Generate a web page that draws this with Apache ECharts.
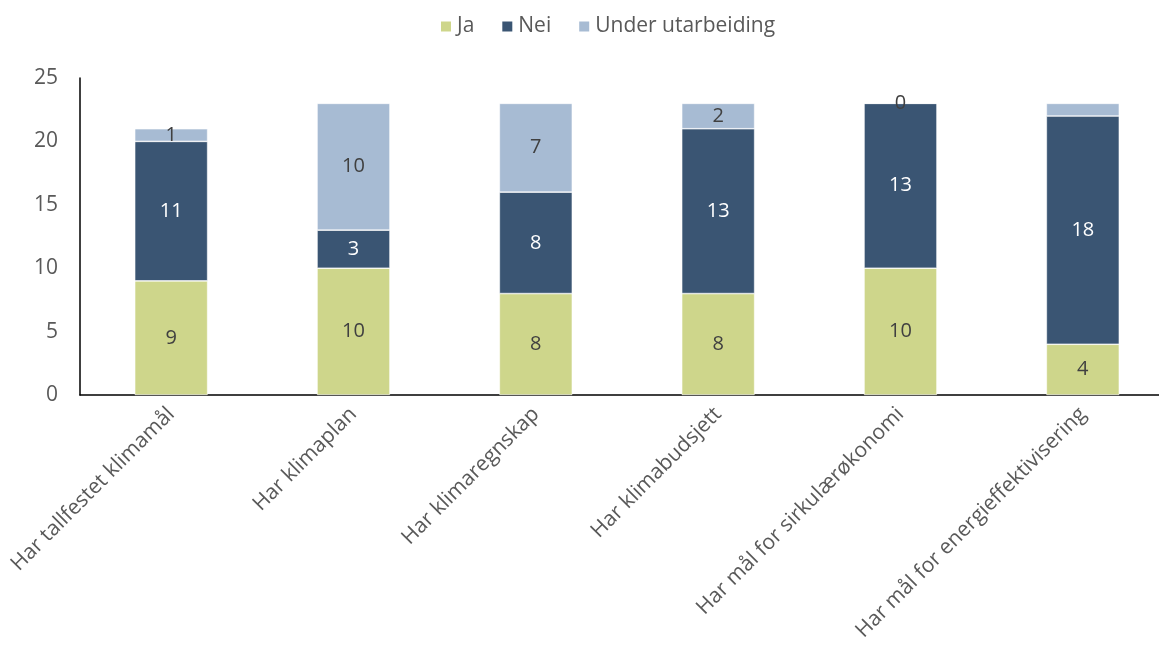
<!DOCTYPE html>
<html>
<head>
<meta charset="utf-8">
<script src="https://cdn.jsdelivr.net/npm/echarts@6/dist/echarts.min.js"></script>
<style>
  html, body { margin: 0; padding: 0; background: #fff; }
  #chart { width: 1159px; height: 648px; }
</style>
</head>
<body>
<div id="chart"></div>
<script>
const categories = [
  'Har tallfestet klimamål',
  'Har klimaplan',
  'Har klimaregnskap',
  'Har klimabudsjett',
  'Har mål for sirkulærøkonomi',
  'Har mål for energieffektivisering'
];
const jaValues = [9, 10, 8, 8, 10, 4];
const neiValues = [11, 3, 8, 13, 13, 18];
const underValues = [1, 10, 7, 2, 0, 1];
// segments whose value label is left out
const hiddenUnderLabels = [5];
const yTicks = { min: 0, max: 25, interval: 5 };

const FONT = '"Open Sans", "Liberation Sans", sans-serif';

function seriesOf(name, values, color, labelColor, hidden) {
  return {
    name: name,
    type: 'bar',
    stack: 'total',
    barWidth: '40%',
    itemStyle: { color: color, borderColor: '#ffffff', borderWidth: 0.6 },
    label: {
      show: true,
      position: 'inside',
      color: labelColor,
      fontSize: 20,
      fontFamily: FONT
    },
    data: values.map((v, i) => (hidden && hidden.includes(i))
      ? { value: v, label: { show: false } }
      : v)
  };
}

const chart = echarts.init(document.getElementById('chart'));
chart.setOption({
  animation: false,
  legend: {
    top: 11,
    left: 434,
    itemWidth: 12,
    itemHeight: 12,
    itemGap: 26,
    icon: 'rect',
    textStyle: { color: '#595959', fontSize: 21, fontFamily: FONT },
    data: ['Ja', 'Nei', 'Under utarbeiding']
  },
  grid: {
    left: 80, width: 1094, top: 78, bottom: 253,
    containLabel: false,
    outerBoundsMode: 'none'
  },
  xAxis: {
    type: 'category',
    data: categories,
    axisLine: { lineStyle: { color: '#000000', width: 1.5 } },
    axisTick: { show: false },
    axisLabel: {
      interval: 0,
      rotate: 45,
      margin: 16,
      color: '#595959',
      fontSize: 21,
      fontFamily: FONT
    }
  },
  yAxis: {
    type: 'value',
    min: yTicks.min,
    max: yTicks.max,
    interval: yTicks.interval,
    axisLine: { show: true, lineStyle: { color: '#000000', width: 1.5 } },
    axisTick: { show: false },
    splitLine: { show: false },
    axisLabel: { color: '#595959', fontSize: 21, fontFamily: FONT, margin: 22 }
  },
  series: [
    seriesOf('Ja', jaValues, '#ced68b', '#404040'),
    seriesOf('Nei', neiValues, '#3a5573', '#ffffff'),
    seriesOf('Under utarbeiding', underValues, '#a7bbd3', '#404040', hiddenUnderLabels)
  ]
});
</script>
</body>
</html>
